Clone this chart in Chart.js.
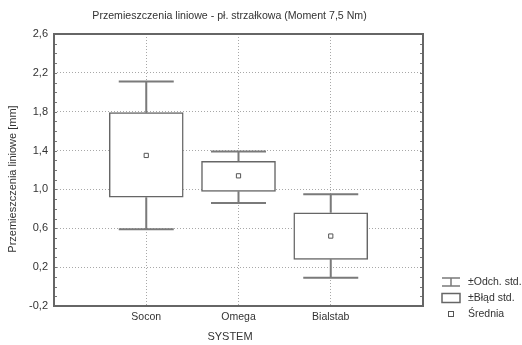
<!DOCTYPE html>
<html>
<head>
<meta charset="utf-8">
<script src="https://cdn.jsdelivr.net/npm/chart.js@4"></script>
<style>
  html, body { margin: 0; padding: 0; background: #fff; }
  #wrap { width: 522px; height: 345px; }
</style>
</head>
<body>
<div id="wrap"><canvas id="boxChart" width="522" height="345"></canvas></div>
<script>
// data
const systems = ["Socon", "Omega", "Bialstab"];
const means = [1.35, 1.14, 0.52];
const seLow = [0.92, 0.98, 0.28];   // ±Błąd std.
const seHigh = [1.79, 1.29, 0.76];
const sdLow = [0.59, 0.86, 0.09];   // ±Odch. std.
const sdHigh = [2.11, 1.39, 0.95];
const legendLabels = ["±Odch. std.", "±Błąd std.", "Średnia"];
const chartTitle = "Przemieszczenia liniowe - pł. strzałkowa (Moment 7,5 Nm)";
const xTitle = "SYSTEM";
const yTitle = "Przemieszczenia liniowe [mm]";

const LINE = "#666";
const WHISKER = "#7a7a7a";
const GRID = "#a8a8a8";
const TEXT = "#333";
const FONT = "Arial, 'Liberation Sans', sans-serif";

Chart.defaults.font.family = FONT;
Chart.defaults.color = TEXT;

// whiskers, frame, inner ticks, titles and the legend
const boxExtras = {
    id: "boxExtras",
    afterDatasetsDraw(chart) {
        const { ctx, scales: { x, y } } = chart;
        ctx.save();
        ctx.strokeStyle = WHISKER;
        ctx.lineWidth = 2;
        systems.forEach((s, i) => {
            const cx = x.getPixelForValue(i + 1);
            ctx.beginPath();
            ctx.moveTo(cx, y.getPixelForValue(seHigh[i]));
            ctx.lineTo(cx, y.getPixelForValue(sdHigh[i]));
            ctx.moveTo(cx - 27.5, y.getPixelForValue(sdHigh[i]));
            ctx.lineTo(cx + 27.5, y.getPixelForValue(sdHigh[i]));
            ctx.moveTo(cx, y.getPixelForValue(seLow[i]));
            ctx.lineTo(cx, y.getPixelForValue(sdLow[i]));
            ctx.moveTo(cx - 27.5, y.getPixelForValue(sdLow[i]));
            ctx.lineTo(cx + 27.5, y.getPixelForValue(sdLow[i]));
            ctx.stroke();
        });
        ctx.restore();
    },
    afterDraw(chart) {
        const { ctx, chartArea: a, scales: { y } } = chart;
        ctx.save();
        // small ticks inside the frame, left and right
        ctx.strokeStyle = "#777";
        ctx.lineWidth = 1;
        y.ticks.forEach((t, i) => {
            const py = Math.round(y.getPixelForTick(i)) + 0.5;
            ctx.beginPath();
            ctx.moveTo(a.left, py);
            ctx.lineTo(a.left + 3, py);
            ctx.moveTo(a.right, py);
            ctx.lineTo(a.right - 3, py);
            ctx.stroke();
        });
        // frame
        ctx.strokeStyle = LINE;
        ctx.lineWidth = 2;
        ctx.strokeRect(a.left, a.top, a.right - a.left, a.bottom - a.top);

        // titles (the original sits a bit off the plot centre)
        const midX = (a.left + a.right) / 2 - 9;
        const midY = (a.top + a.bottom) / 2 + 9;
        ctx.fillStyle = TEXT;
        ctx.textAlign = "center";
        ctx.textBaseline = "middle";
        ctx.font = "10.6px " + FONT;
        ctx.fillText(chartTitle, midX, 16);
        ctx.font = "11px " + FONT;
        ctx.fillText(xTitle, midX + 0.5, 337);
        ctx.save();
        ctx.translate(13, midY);
        ctx.rotate(-Math.PI / 2);
        ctx.font = "11px " + FONT;
        ctx.fillText(yTitle, 0, 0);
        ctx.restore();

        // legend
        const lx = a.right + 19, tx = a.right + 45;
        const rows = [282, 298, 314];
        ctx.font = "10.5px " + FONT;
        ctx.textAlign = "left";
        legendLabels.forEach((lbl, i) => ctx.fillText(lbl, tx, rows[i]));

        ctx.strokeStyle = WHISKER;
        ctx.lineWidth = 1.5;
        ctx.beginPath();
        ctx.moveTo(lx, rows[0] - 4); ctx.lineTo(lx + 18, rows[0] - 4);
        ctx.moveTo(lx, rows[0] + 4); ctx.lineTo(lx + 18, rows[0] + 4);
        ctx.moveTo(lx + 9, rows[0] - 4); ctx.lineTo(lx + 9, rows[0] + 4);
        ctx.stroke();

        ctx.strokeStyle = LINE;
        ctx.strokeRect(lx, rows[1] - 4.5, 18, 9);

        ctx.lineWidth = 1;
        ctx.strokeStyle = "#555";
        ctx.strokeRect(lx + 6.5, rows[2] - 2.5, 5, 5);
        ctx.restore();
    }
};

const ctx = document.getElementById("boxChart").getContext("2d");
new Chart(ctx, {
    data: {
        datasets: [
            {
                type: "scatter",
                label: "Średnia",
                data: systems.map((s, i) => ({ x: i + 1, y: means[i] })),
                pointStyle: "rect",
                pointRadius: 3,
                pointBorderWidth: 1,
                pointBorderColor: "#555",
                pointBackgroundColor: "#fff",
                order: 0
            },
            {
                type: "bar",
                label: "±Błąd std.",
                data: systems.map((s, i) => ({ x: i + 1, y: [seLow[i], seHigh[i]] })),
                backgroundColor: "#fff",
                borderColor: LINE,
                borderWidth: 1.5,
                borderSkipped: false,
                barThickness: 74,
                order: 1
            }
        ]
    },
    options: {
        responsive: false,
        animation: false,
        layout: { padding: { top: 34, right: 99, bottom: 0, left: 0 } },
        plugins: {
            legend: { display: false },
            tooltip: { enabled: false },
            title: { display: false }
        },
        scales: {
            x: {
                type: "linear",
                min: 0,
                max: 4,
                offset: false,
                afterFit: s => { s.height = 39; },
                ticks: {
                    stepSize: 1,
                    padding: 5,
                    font: { size: 10.5 },
                    color: TEXT,
                    callback: v => systems[v - 1] || ""
                },
                grid: {
                    offset: false,
                    drawTicks: false,
                    color: c => (c.tick && c.tick.value > 0 && c.tick.value < 4) ? GRID : "transparent",
                    lineWidth: 1
                },
                border: { display: false, dash: [1, 2] }
            },
            y: {
                min: -0.2,
                max: 2.6,
                afterFit: s => { s.width = 54; },
                ticks: {
                    stepSize: 0.1,
                    autoSkip: false,
                    padding: 6,
                    font: { size: 11 },
                    color: TEXT,
                    callback: (v, i) => i % 4 === 0 ? v.toFixed(1).replace(".", ",") : ""
                },
                grid: {
                    drawTicks: false,
                    color: c => (c.index % 4 === 0 && c.index > 0 && c.index < 28) ? GRID : "transparent",
                    lineWidth: 1
                },
                border: { display: false, dash: [1, 2] }
            }
        }
    },
    plugins: [boxExtras]
});
</script>
</body>
</html>
